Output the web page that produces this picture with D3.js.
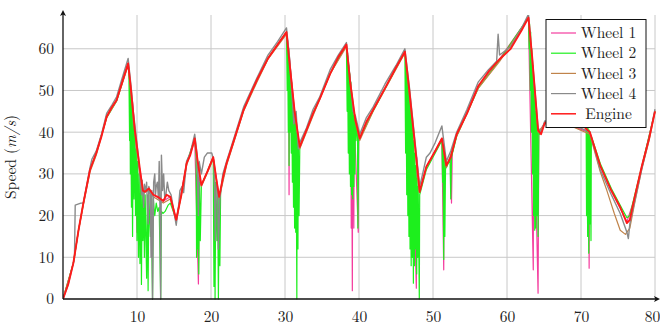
<!DOCTYPE html>
<html>
<head>
<meta charset="utf-8">
<script src="https://cdn.jsdelivr.net/npm/d3@7"></script>
</head>
<body style="margin:0; background:#fff">
<script>
const width = 660, height = 327;
const FONT = "Latin Modern Roman, Liberation Serif, serif";

// tick values
const xTicks = [10, 20, 30, 40, 50, 60, 70, 80];
const yTicks = [0, 10, 20, 30, 40, 50, 60];
const seriesNames = ["Wheel 1", "Wheel 2", "Wheel 3", "Wheel 4", "Engine"];

// [time, speed]
const engine = [[0,0],[0.7,3.5],[1.4,8.6],[2.1,16.5],[2.75,23],[3.65,31],[4.5,35],[5.2,39],[5.9,43.7],[6.6,46],[7.25,47.7],[8,52],[8.8,56.5],[9.2,50],[9.7,40.5],[10.4,31],[10.8,26],[11.1,25.7],[11.6,26.5],[12.2,25],[12.8,24.5],[13.55,23.5],[14,25],[14.5,24.5],[15.3,19],[16,25],[16.7,32.5],[17.2,34.5],[17.8,38.5],[18.2,33],[18.7,27.3],[19.5,30.5],[20.3,34],[20.7,29],[21.1,24.5],[21.6,29],[22.1,32.5],[23,37.5],[24.4,45.3],[25.3,49],[26.2,52.5],[27.7,57.7],[29,61],[30.2,64],[30.7,55],[31.3,45],[32,36.5],[32.9,40.5],[33.8,44.5],[34.7,48],[36.1,54],[37.2,58],[38.3,61],[38.8,52],[39.5,43],[40.1,38.5],[41,42.5],[41.9,45.3],[43.5,50.5],[45,55.5],[46.2,59.3],[46.8,50],[47.5,38],[48.2,25.7],[49.1,31.7],[50.3,35.5],[51.2,38.5],[51.8,32],[52.4,34],[53.2,39.5],[54.6,44.5],[56.1,51],[57.5,54.5],[59,57.5],[60.5,60],[62,64.5],[62.9,67.5],[63.4,58],[64.2,40.5],[64.6,39.5],[65.1,42.2],[66,43],[68,42],[70,42],[71.2,40],[72.6,32],[74.1,26],[75.3,22],[76.2,18.2],[76.6,19],[77.2,24],[78.2,31.7],[79.2,38.5],[80,45]];

const wheel1 = [[0,0],[1.4,8.6],[2.1,16.5],[2.75,23],[3.65,31],[4.5,35],[5.9,43.7],[7.25,47.7],[8.8,56.5],[9.2,50],[9.28,23.5],[9.35,48],[9.7,40.5],[10.0,16],[10.1,33],[10.4,31],[10.8,26],[11.6,26.5],[12.2,25],[13.55,23.5],[14.5,24.5],[15.3,19],[16.7,32.5],[17.8,38.5],[18.3,3.6],[18.4,29],[18.7,27.3],[20.3,34],[21.1,24.5],[22.1,32.5],[24.4,45.3],[26.2,52.5],[27.7,57.7],[30.2,64],[30.5,60],[30.55,25],[30.6,58],[31.3,45],[32,36.5],[33.8,44.5],[36.1,54],[38.3,61],[38.9,50],[38.95,17],[39.0,49],[39.1,2],[39.15,47],[39.3,17],[39.35,44],[39.9,16],[39.95,39],[40.1,38.5],[41.9,45.3],[46.2,59.3],[47.0,45],[47.1,10],[47.15,43],[47.75,2.6],[47.8,34],[48.2,25.7],[49.1,31.7],[51.2,38.5],[51.45,7],[51.5,35],[51.8,32],[52.4,34],[52.5,23],[52.6,35],[53.2,39.5],[56.1,51],[59,57.5],[62.9,67.5],[63.55,7],[63.6,52],[64.2,1.4],[64.3,40],[65.1,42.2],[68,42],[71.0,40],[71.1,7.4],[71.15,40],[72.6,32],[74.1,26],[76.2,18.5],[77.2,24],[78.2,31.7],[80,45]];

const wheel2 = [[0,0],[1.4,8.6],[2.1,16.5],[2.75,23],[3.65,31],[4.5,35],[5.9,43.5],[7.25,47.5],[8.8,56.3],[8.9,55],[9.0,38],[9.05,52],[9.1,30],[9.15,50],[9.25,22],[9.3,48],[9.4,15],[9.5,44],[9.6,24],[9.7,40],[9.8,20],[9.9,36],[10.0,14],[10.1,33],[10.2,10],[10.3,30],[10.4,8.5],[10.5,28],[10.6,3.5],[10.7,26],[10.8,14],[10.9,26],[11.0,10],[11.1,25],[11.3,5],[11.4,25],[11.5,2],[11.6,25],[11.8,15],[11.9,25],[12.1,0],[12.2,24],[12.4,20],[12.6,23],[12.8,21],[13.0,22],[13.2,0],[13.3,21],[13.5,20.5],[13.8,21],[14.2,22.5],[14.5,23],[15.3,19],[16,25],[16.7,32.5],[17.8,38.5],[18.0,34],[18.05,10],[18.15,30],[18.2,12],[18.3,29],[18.35,6],[18.45,28],[18.55,14],[18.7,27.3],[19.5,30.5],[20.3,34],[20.4,3],[20.5,30],[20.55,0],[20.65,28],[20.8,14],[20.9,26],[21.0,0],[21.1,24.5],[21.2,8],[21.3,26],[21.6,29],[22.1,32.5],[24.4,45.3],[26.2,52.5],[27.7,57.7],[30.2,64],[30.3,50],[30.35,62],[30.45,40],[30.5,60],[30.55,32],[30.6,58],[30.7,40],[30.75,55],[30.85,35],[30.9,52],[31.0,28],[31.05,49],[31.15,22],[31.2,46],[31.3,17],[31.35,44],[31.45,16],[31.5,42],[31.6,0],[31.65,40],[31.75,12],[31.8,38],[31.9,20],[32,36.5],[33.8,44.5],[36.1,54],[38.3,61],[38.4,45],[38.45,59],[38.55,35],[38.6,56],[38.7,30],[38.75,54],[38.85,27],[38.9,52],[39.0,25],[39.05,49],[39.15,24],[39.2,46],[39.3,27],[39.35,44],[39.45,30],[39.5,43],[39.6,38],[39.7,41],[39.8,40],[39.85,17],[39.95,39],[40.1,38.5],[41.9,45],[46.2,59.3],[46.3,35],[46.35,57],[46.45,25],[46.5,55],[46.6,20],[46.65,52],[46.75,15],[46.8,50],[46.9,12],[46.95,47],[47.05,8],[47.1,44],[47.2,10],[47.25,41],[47.35,3.8],[47.4,38],[47.5,8],[47.55,35],[47.65,12],[47.7,32],[47.8,6],[47.85,29],[47.95,10],[48.0,27],[48.15,0],[48.2,25],[49.1,31],[50.3,35],[51.2,38],[51.3,28],[51.35,37],[51.45,9.5],[51.5,35],[51.6,15],[51.7,33],[51.8,31.5],[52.3,33.5],[52.4,24],[52.5,34],[53.2,39],[56.1,50.5],[59,57.3],[62.9,67.5],[63.0,60],[63.05,66],[63.15,50],[63.2,64],[63.3,40],[63.35,60],[63.45,30],[63.5,56],[63.6,20],[63.65,52],[63.75,16.5],[63.8,48],[63.9,17],[63.95,45],[64.05,20],[64.1,42],[64.2,15],[64.3,40],[64.4,39.5],[65.1,42.2],[68,42],[70,42],[70.7,41],[70.75,20],[70.8,41],[70.9,15],[70.95,41],[71.05,11],[71.1,40.5],[71.2,18],[71.25,40],[71.35,14],[71.4,39],[72.6,32.5],[74.1,26.5],[75.3,22.5],[76.2,19.5],[76.6,20],[77.2,24.5],[78.2,31.7],[80,45]];

const wheel3 = [[0,0],[1.4,8.6],[2.1,16.5],[2.75,22.5],[3.65,30.5],[4.5,34.5],[5.9,43.5],[7.25,47.5],[8.8,56],[9.2,49],[9.7,40],[10.4,30],[10.8,25.5],[11.6,26],[12.2,24.5],[13.55,23],[14.5,24],[15.3,18.5],[16.7,32],[17.8,38],[18.7,27],[20.3,33.5],[21.1,24],[22.1,32],[24.4,45],[26.2,52],[27.7,57.5],[30.2,63.5],[31.3,44.5],[32,36],[33.8,44],[36.1,54],[38.3,60.5],[39.5,42.5],[40.1,38],[41.9,45],[46.2,59],[47.5,37.5],[48.2,25.5],[49.1,31.5],[51.2,38.5],[51.8,31.5],[53.2,39],[56.1,50.5],[59,57],[62.9,67.3],[64.2,40],[65.1,42],[68,42],[71.2,39.5],[72.6,30.5],[73.5,26],[74.5,20.5],[75.3,16.5],[76.0,15.5],[76.6,17],[77.2,22.5],[78.2,31],[79.2,38],[80,45]];

const wheel4 = [[0,0],[0.7,3.5],[1.55,9.8],[1.65,22.5],[2.4,23],[2.75,23],[3.65,31.5],[3.9,33.5],[4.5,35.5],[5.2,39.5],[5.9,44.5],[6.6,46.5],[7.25,48.5],[8,53],[8.8,57.7],[9.2,51],[9.5,45],[9.7,42],[10.2,34],[10.4,30],[10.6,25],[10.7,28.5],[10.9,22],[11.0,27.5],[11.2,26],[11.3,28],[11.5,18],[11.6,27],[11.8,25],[11.9,10],[12.0,26],[12.1,0],[12.25,28],[12.4,30],[12.5,25],[12.6,27],[12.75,28],[12.9,24],[13.0,33],[13.1,22],[13.2,0],[13.3,34.5],[13.45,26],[13.6,30],[13.75,24],[13.9,25],[14.1,28],[14.3,26],[14.6,25],[15.3,17.7],[15.6,22],[15.8,26],[16.1,27],[16.3,25.5],[16.7,33],[17.2,35],[17.8,39.5],[18.1,35],[18.3,20],[18.4,33],[18.7,30],[19.1,34],[19.5,35],[20.1,35],[20.4,33],[20.6,14],[20.7,28],[20.9,26],[21.0,12],[21.2,24],[21.6,30],[22.1,33],[23,38],[24.4,46],[25.3,49.5],[26.2,53],[27.7,58.5],[29,61.7],[30.2,65],[30.6,58],[30.9,50],[31.2,42],[31.5,45],[31.8,36],[32,37.5],[32.9,41],[33.8,45.5],[34.7,48.5],[36.1,55],[37.2,58.5],[38.3,61.5],[38.8,53],[39.2,45],[39.5,44],[40.1,39.5],[41,43.5],[41.9,46],[43.5,51.5],[45,56],[46.2,60],[46.8,51],[47.5,39],[48.2,27],[48.6,30],[49.1,34],[49.6,35],[50.3,37.5],[51.2,41.5],[51.8,33],[52.4,35.5],[53.2,40],[54.6,45.5],[56.1,52],[57.5,55],[58.6,57],[58.8,63.5],[59.0,58.5],[60.5,60.5],[62,65],[62.9,68.3],[63.4,58],[64.2,41],[64.6,40],[65.1,42.7],[68,42.5],[71.2,40],[72.6,31],[74.1,25],[75.3,20.5],[76.2,16],[76.4,14.5],[76.6,18],[77.2,23],[78.2,31],[79.2,38.5],[80,45.5]];

const seriesData = [wheel1, wheel2, wheel3, wheel4, engine];
const seriesColors = ["#f43c9e", "#1def1d", "#c0834a", "#8a8a8a", "#ff1a1a"];
const seriesWidths = [1.2, 1.2, 1.2, 1.4, 1.9];

const x = d3.scaleLinear().domain([0, 80]).range([63, 655]);
const y = d3.scaleLinear().domain([0, 68.1]).range([299, 15]);

const svg = d3.select("body").append("svg")
    .attr("width", width)
    .attr("height", height)
    .style("display", "block");

svg.append("defs").append("clipPath").attr("id", "plotclip")
    .append("rect")
    .attr("x", x(0)).attr("y", y(68.1))
    .attr("width", x(80) - x(0) + 2).attr("height", y(0) - y(68.1) + 1);

// grid
const grid = svg.append("g").attr("stroke", "#c8c8c8").attr("stroke-width", 1);
grid.selectAll("line.v")
    .data(xTicks)
    .enter().append("line")
    .attr("x1", d => x(d)).attr("x2", d => x(d))
    .attr("y1", y(0)).attr("y2", y(68.1));
grid.selectAll("line.h")
    .data(yTicks.filter(d => d > 0))
    .enter().append("line")
    .attr("x1", x(0)).attr("x2", x(80))
    .attr("y1", d => y(d)).attr("y2", d => y(d));

// series
const line = d3.line()
    .x(d => x(d[0]))
    .y(d => y(d[1]));

svg.append("g").attr("clip-path", "url(#plotclip)")
    .selectAll("path")
    .data(seriesData)
    .enter().append("path")
    .attr("d", d => line(d))
    .attr("fill", "none")
    .attr("stroke", (d, i) => seriesColors[i])
    .attr("stroke-width", (d, i) => seriesWidths[i])
    .attr("stroke-linejoin", "round");

// axes
const xAxis = svg.append("g")
    .attr("transform", "translate(0," + y(0) + ")")
    .call(d3.axisBottom(x).tickValues(xTicks).tickSize(0).tickPadding(12));
const yAxis = svg.append("g")
    .attr("transform", "translate(" + x(0) + ",0)")
    .call(d3.axisLeft(y).tickValues(yTicks).tickSize(0).tickPadding(9));
[xAxis, yAxis].forEach(function(a) {
    a.attr("font-family", FONT).attr("font-size", 15.5);
    a.select(".domain").remove();
    a.selectAll("text").attr("fill", "#222");
});
// last x label sits against the right edge
xAxis.selectAll(".tick text").filter(d => d == 80).attr("dx", "-3");

svg.append("line")
    .attr("x1", x(0)).attr("x2", 656)
    .attr("y1", y(0)).attr("y2", y(0))
    .attr("stroke", "#111").attr("stroke-width", 1.3);
svg.append("line")
    .attr("x1", x(0)).attr("x2", x(0))
    .attr("y1", y(0)).attr("y2", 14)
    .attr("stroke", "#111").attr("stroke-width", 1.3);
svg.append("path")
    .attr("d", "M660," + y(0) + " l-6,-3 l1.5,3 l-1.5,3 z")
    .attr("fill", "#111");
svg.append("path")
    .attr("d", "M" + x(0) + ",10 l-3,6 l3,-1.5 l3,1.5 z")
    .attr("fill", "#111");

// y label
const ylab = svg.append("text")
    .attr("transform", "translate(15.5,157) rotate(-90)")
    .attr("text-anchor", "middle")
    .attr("fill", "#222")
    .attr("font-family", FONT)
    .attr("font-size", 15.5);
ylab.append("tspan").text("Speed (");
ylab.append("tspan").attr("font-style", "italic").text("m/s");
ylab.append("tspan").text(")");

// legend
const legend = svg.append("g");
legend.append("rect")
    .attr("x", 546).attr("y", 19.5)
    .attr("width", 100).attr("height", 108)
    .attr("fill", "#fff").attr("stroke", "#111").attr("stroke-width", 1);
const rows = legend.selectAll("g.row")
    .data(seriesNames)
    .enter().append("g")
    .attr("transform", (d, i) => "translate(0," + (33 + i * 20.2) + ")");
rows.append("line")
    .attr("x1", 551).attr("x2", 576)
    .attr("y1", 0).attr("y2", 0)
    .attr("stroke", (d, i) => seriesColors[i])
    .attr("stroke-width", (d, i) => i == 4 ? 1.5 : 1.2);
rows.append("text")
    .attr("x", 608.5).attr("y", 0).attr("dy", "0.34em")
    .attr("text-anchor", "middle")
    .attr("fill", "#222")
    .attr("font-family", FONT)
    .attr("font-size", 15.5)
    .text(d => d);
</script>
</body>
</html>
